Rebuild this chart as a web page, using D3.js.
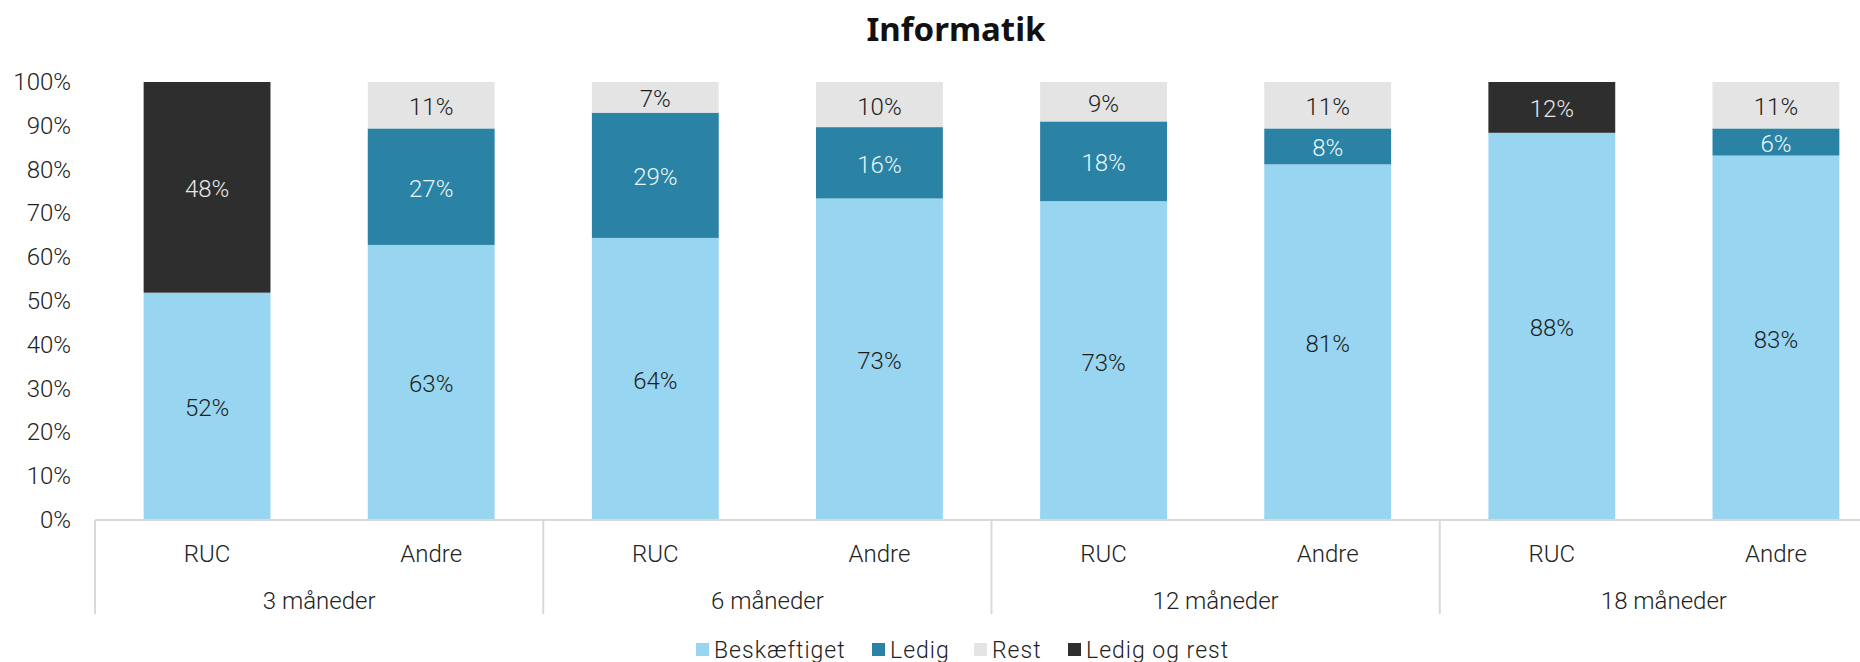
<!DOCTYPE html>
<html>
<head>
<meta charset="utf-8">
<script src="https://cdn.jsdelivr.net/npm/d3@7"></script>
<style>
  body { margin: 0; background: #fff; }
  text { font-family: Roboto, "Noto Sans", sans-serif; font-weight: 300; fill: #222; }
  .title { font-family: "Noto Sans", sans-serif; font-weight: 700; fill: #111; }
</style>
</head>
<body>
<div id="chart"></div>
<script>
// periods and sub categories on the x axis
var groups = ["3 måneder", "6 måneder", "12 måneder", "18 måneder"];
var subCats = ["RUC", "Andre"];

// one value per bar, in order 3m RUC, 3m Andre, 6m RUC, ...
var beskaeftiget = [51.9, 62.8, 64.4, 73.4, 72.8, 81.2, 88.4, 83.2];
var ledig = [0, 26.6, 28.6, 16.3, 18.2, 8.2, 0, 6.2];
var rest = [0, 10.6, 7.0, 10.3, 9.0, 10.6, 0, 10.6];
var ledigOgRest = [48.1, 0, 0, 0, 0, 0, 11.6, 0];

var seriesNames = ["Beskæftiget", "Ledig", "Rest", "Ledig og rest"];
var yTicks = [0, 10, 20, 30, 40, 50, 60, 70, 80, 90, 100];

var colors = ["#97d5f0", "#2a83a5", "#e4e4e4", "#2e2e2e"];
var labelColors = ["#1e1e1e", "#e9f5fa", "#1e1e1e", "#e6e6e6"];

var chartWidth = 1860, chartHeight = 662;
var plotLeft = 95, plotRight = 1888, plotTop = 82, plotBottom = 520;

var svg = d3.select("#chart").append("svg")
    .attr("width", chartWidth)
    .attr("height", chartHeight);

var rows = [];
groups.forEach(function (g, gi) {
    subCats.forEach(function (c, ci) {
        var i = gi * 2 + ci;
        rows.push({
            key: g + "|" + c, group: g, cat: c,
            "Beskæftiget": beskaeftiget[i],
            "Ledig": ledig[i],
            "Rest": rest[i],
            "Ledig og rest": ledigOgRest[i]
        });
    });
});

var x = d3.scaleBand()
    .domain(rows.map(function (d) { return d.key; }))
    .range([plotLeft, plotRight])
    .paddingInner(0.434)
    .paddingOuter(0.217);

var xGroup = d3.scaleBand()
    .domain(groups)
    .range([plotLeft, plotRight]);

var y = d3.scaleLinear()
    .domain([0, 100])
    .range([plotBottom, plotTop]);

var stacked = d3.stack().keys(seriesNames)(rows);

// bars
var layer = svg.append("g").selectAll("g")
    .data(stacked).enter().append("g")
    .attr("fill", function (d, i) { return colors[i]; });

layer.selectAll("rect")
    .data(function (d) { return d; })
    .enter().append("rect")
    .attr("x", function (d) { return x(d.data.key); })
    .attr("width", x.bandwidth())
    .attr("y", function (d) { return y(d[1]); })
    .attr("height", function (d) { return y(d[0]) - y(d[1]); });

// value labels
stacked.forEach(function (s, si) {
    svg.append("g").selectAll("text")
        .data(s.filter(function (d) { return d[1] - d[0] > 0; }))
        .enter().append("text")
        .attr("x", function (d) { return x(d.data.key) + x.bandwidth() / 2; })
        .attr("y", function (d) { return (y(d[0]) + y(d[1])) / 2 + 2; })
        .attr("text-anchor", "middle")
        .attr("dominant-baseline", "central")
        .style("font-size", "24px")
        .style("fill", labelColors[si])
        .text(function (d) { return Math.round(d[1] - d[0]) + "%"; });
});

// y axis labels
svg.append("g").selectAll("text")
    .data(yTicks).enter().append("text")
    .attr("x", 71)
    .attr("y", function (d) { return y(d); })
    .attr("text-anchor", "end")
    .attr("dominant-baseline", "central")
    .style("font-size", "24px")
    .text(function (d) { return d + "%"; });

// x axis line and group dividers
svg.append("line")
    .attr("x1", plotLeft).attr("x2", plotRight)
    .attr("y1", plotBottom).attr("y2", plotBottom)
    .attr("stroke", "#d9d9d9").attr("stroke-width", 2);

svg.append("g").selectAll("line")
    .data(groups.concat(["end"])).enter().append("line")
    .attr("x1", function (d, i) { return i < groups.length ? xGroup(d) : plotRight; })
    .attr("x2", function (d, i) { return i < groups.length ? xGroup(d) : plotRight; })
    .attr("y1", plotBottom).attr("y2", 614)
    .attr("stroke", "#d9d9d9").attr("stroke-width", 2);

svg.append("g").selectAll("text")
    .data(rows).enter().append("text")
    .attr("x", function (d) { return x(d.key) + x.bandwidth() / 2; })
    .attr("y", 554)
    .attr("text-anchor", "middle")
    .attr("dominant-baseline", "central")
    .style("font-size", "24px")
    .text(function (d) { return d.cat; });

svg.append("g").selectAll("text")
    .data(groups).enter().append("text")
    .attr("x", function (d) { return xGroup(d) + xGroup.bandwidth() / 2; })
    .attr("y", 601)
    .attr("text-anchor", "middle")
    .attr("dominant-baseline", "central")
    .style("font-size", "24px")
    .text(function (d) { return d; });

// title
svg.append("text")
    .attr("class", "title")
    .attr("x", 956)
    .attr("y", 28)
    .attr("text-anchor", "middle")
    .attr("dominant-baseline", "central")
    .style("font-size", "33px")
    .text("Informatik");

// legend
var legendX = [696, 872, 974, 1068];
var legend = svg.append("g").selectAll("g")
    .data(seriesNames).enter().append("g")
    .attr("transform", function (d, i) { return "translate(" + legendX[i] + ",650)"; });

legend.append("rect")
    .attr("x", 0).attr("y", -7)
    .attr("width", 13).attr("height", 13)
    .attr("fill", function (d, i) { return colors[i]; });

legend.append("text")
    .attr("x", 18)
    .attr("y", 0)
    .attr("dominant-baseline", "central")
    .style("font-size", "23px")
    .style("letter-spacing", "1px")
    .text(function (d) { return d; });
</script>
</body>
</html>
